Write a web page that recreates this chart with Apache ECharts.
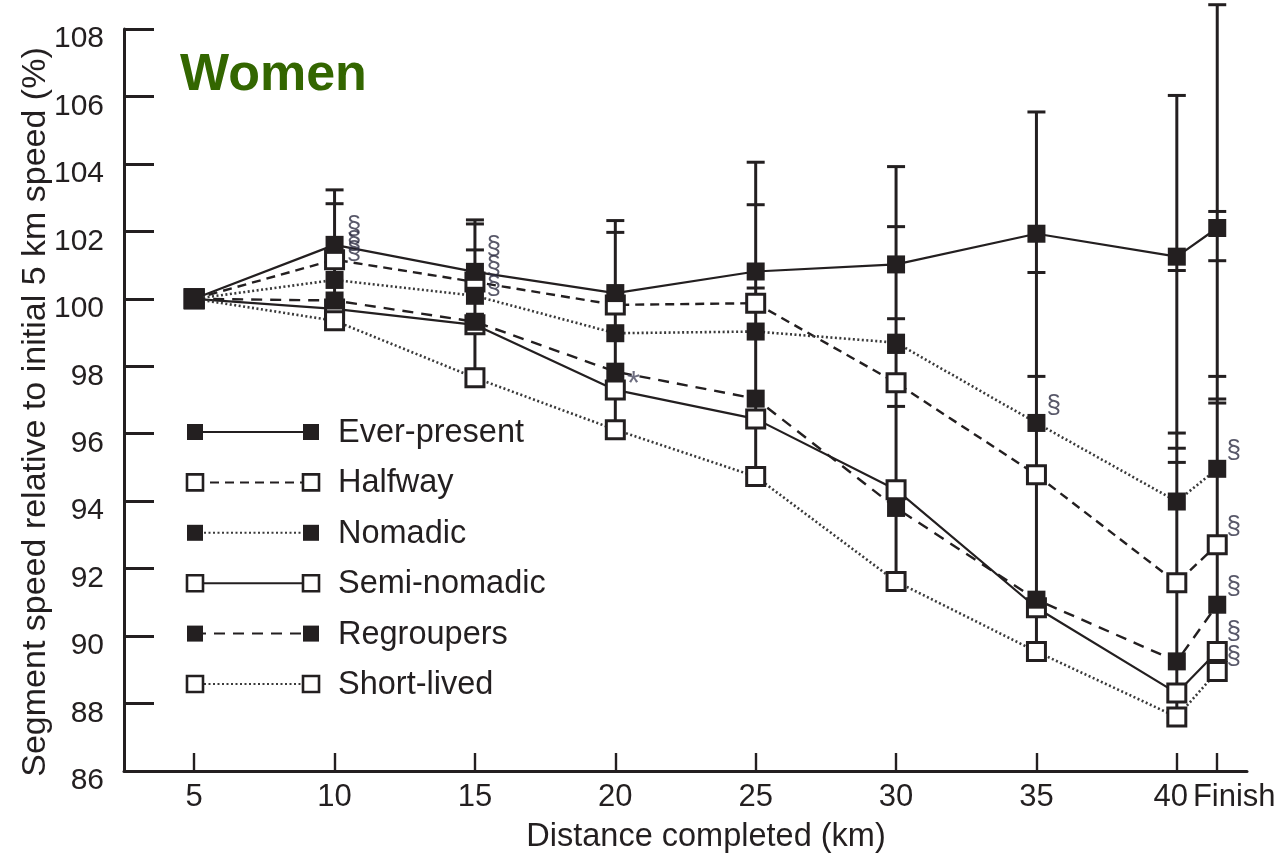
<!DOCTYPE html>
<html>
<head>
<meta charset="utf-8">
<script src="https://cdn.jsdelivr.net/npm/echarts@6/dist/echarts.min.js"></script>
<style>
  html, body { margin: 0; padding: 0; background: #fff; }
  #chart { width: 1281px; height: 864px; }
</style>
</head>
<body>
<div id="chart"></div>
<script>
var FIN = 41.44; // x position of the "Finish" point
var xKm = [5, 10, 15, 20, 25, 30, 35, 40, FIN];
var xTicks = [5, 10, 15, 20, 25, 30, 35, 40, FIN];

var everPresent = [100, 101.6, 100.8, 100.17, 100.81, 101.02, 101.93, 101.25, 102.1];
var halfway     = [100, 101.16, 100.5, 99.82, 99.87, 97.51, 94.78, 91.58, 92.71];
var nomadic     = [100, 100.56, 100.09, 98.98, 99.03, 98.7, 96.32, 93.99, 94.96];
var semiNomadic = [100, 99.7, 99.23, 97.3, 96.44, 94.34, 90.84, 88.31, 89.54];
var regroupers  = [100, 99.95, 99.32, 97.84, 97.04, 93.8, 91.08, 89.25, 90.93];
var shortLived  = [100, 99.35, 97.66, 96.12, 94.73, 91.62, 89.54, 87.6, 88.95];

// error bar spans and cap positions
var errX    = [10, 15, 20, 25, 30, 35, 40, FIN];
var errLow  = [99.35, 97.66, 96.12, 94.73, 91.62, 89.54, 87.6, 88.95];
var errHigh = [103.23, 102.34, 102.32, 104.05, 103.92, 105.54, 106.03, 108.72];
var errCaps = [
    [10, 103.23], [10, 102.82],
    [15, 102.34], [15, 102.22], [15, 101.45],
    [20, 102.32], [20, 101.97],
    [25, 104.05], [25, 102.79], [25, 100.32],
    [30, 103.92], [30, 102.14], [30, 99.41], [30, 98.41], [30, 96.81],
    [35, 105.54], [35, 100.78], [35, 97.7],
    [40, 106.03], [40, 100.84], [40, 96.02], [40, 95.57], [40, 95.15],
    [FIN, 108.72], [FIN, 102.59], [FIN, 101.13], [FIN, 97.7], [FIN, 97.03], [FIN, 96.91]
];

// significance marks
var signs = [
    [10.69, 102.13, '§'], [10.69, 101.69, '§'], [10.69, 101.39, '§'],
    [15.67, 101.54, '§'], [15.67, 100.95, '§'], [15.67, 100.36, '§'],
    [20.65, 97.45, '*'],
    [35.62, 96.83, '§'],
    [42.03, 95.5, '§'], [42.03, 93.25, '§'], [42.03, 91.47, '§'], [42.03, 90.14, '§'], [42.03, 89.39, '§']
];

var INK = '#231f20';
var FONT = 'Liberation Sans, Arial, sans-serif';

var groups = [
    { name: 'Ever-present', data: everPresent, filled: true,  dash: 'solid',  w: 2.2, col: INK },
    { name: 'Halfway',      data: halfway,     filled: false, dash: [9, 6],   w: 2.4, col: INK },
    { name: 'Nomadic',      data: nomadic,     filled: true,  dash: [2, 2.5], w: 2.6, col: '#3a3a3a' },
    { name: 'Semi-nomadic', data: semiNomadic, filled: false, dash: 'solid',  w: 2.2, col: INK },
    { name: 'Regroupers',   data: regroupers,  filled: true,  dash: [11, 8],  w: 2.4, col: INK },
    { name: 'Short-lived',  data: shortLived,  filled: false, dash: [2, 2.5], w: 2.6, col: '#3a3a3a' }
];

function pairs(xs, ys) {
    var out = [];
    for (var i = 0; i < xs.length; i++) out.push([xs[i], ys[i]]);
    return out;
}

var series = [];

// vertical error bar stems
series.push({
    type: 'custom',
    clip: false,
    silent: true,
    z: 1,
    data: pairs(errX, errLow).map(function (p, i) { return [p[0], p[1], errHigh[i]]; }),
    renderItem: function (params, api) {
        var a = api.coord([api.value(0), api.value(1)]);
        var b = api.coord([api.value(0), api.value(2)]);
        return {
            type: 'line',
            shape: { x1: a[0], y1: a[1], x2: b[0], y2: b[1] },
            style: { stroke: INK, lineWidth: 3 }
        };
    }
});
// error bar caps
series.push({
    type: 'custom',
    clip: false,
    silent: true,
    z: 1,
    data: errCaps,
    renderItem: function (params, api) {
        var c = api.coord([api.value(0), api.value(1)]);
        return {
            type: 'line',
            shape: { x1: c[0] - 9, y1: c[1], x2: c[0] + 9, y2: c[1] },
            style: { stroke: INK, lineWidth: 3 }
        };
    }
});

// open markers are drawn under the filled ones
groups.forEach(function (g, i) {
    series.push({
        name: g.name,
        type: 'line',
        z: (g.filled ? 6 : 2) + i / 10,
        data: pairs(xKm, g.data),
        symbol: 'rect',
        symbolSize: 18,
        showAllSymbol: true,
        silent: true,
        lineStyle: { color: g.col, width: g.w, type: g.dash },
        itemStyle: g.filled
            ? { color: INK, borderColor: INK, borderWidth: 0 }
            : { color: '#fff', borderColor: INK, borderWidth: 3 },
        emphasis: { disabled: true }
    });
});

series.push({
    type: 'scatter',
    silent: true,
    z: 10,
    symbol: 'circle',
    symbolSize: 1,
    itemStyle: { color: 'rgba(0,0,0,0)' },
    data: signs,
    label: {
        show: true,
        position: 'inside',
        formatter: function (p) { return p.data[2] === '*' ? '{s|*}' : '{p|§}'; },
        rich: {
            p: { color: '#2e2e44', fontSize: 26, fontFamily: FONT },
            s: { color: '#4a4a60', fontSize: 34, fontFamily: FONT }
        }
    }
});

// hand-made legend: marker - line - marker, then the name
var legendEls = [];
var rowY0 = 432, rowStep = 50.4;
groups.forEach(function (g, i) {
    var y = rowY0 + i * rowStep;
    legendEls.push({
        type: 'line',
        shape: { x1: 195, y1: y, x2: 311, y2: y },
        style: { stroke: g.col, lineWidth: 2, lineDash: g.dash === 'solid' ? null : g.dash }
    });
    [195, 311].forEach(function (cx) {
        legendEls.push({
            type: 'rect',
            shape: { x: cx - 8, y: y - 8, width: 16, height: 16 },
            style: g.filled ? { fill: INK } : { fill: '#fff', stroke: INK, lineWidth: 2.6 }
        });
    });
    legendEls.push({
        type: 'text',
        x: 338,
        y: y + 1,
        style: { text: g.name, fill: INK, font: '32.5px ' + FONT, textVerticalAlign: 'middle' }
    });
});
legendEls.push({
    type: 'text',
    x: 180,
    y: 76,
    style: { text: 'Women', fill: '#336600', font: 'bold 52px ' + FONT, textVerticalAlign: 'middle' }
});

var myChart = echarts.init(document.getElementById('chart'));
var option = {
    animation: false,
    backgroundColor: '#fff',
    grid: { left: 124, right: 34, top: 29, bottom: 93 },
    xAxis: {
        type: 'value',
        min: 2.5,
        max: 42.5,
        name: 'Distance completed (km)',
        nameLocation: 'middle',
        nameGap: 50,
        nameMoveOverlap: false,
        nameTextStyle: { color: INK, fontSize: 32.5, fontFamily: FONT, padding: [0, 0, 0, 41] },
        splitLine: { show: false },
        axisLine: { lineStyle: { color: INK, width: 3 } },
        axisTick: { inside: true, length: 18, customValues: xTicks, lineStyle: { color: INK, width: 2.4 } },
        axisLabel: {
            customValues: xTicks,
            margin: 11,
            color: INK,
            fontSize: 31,
            fontFamily: FONT,
            formatter: function (v) {
                if (Math.abs(v - FIN) < 0.01) return '{f|Finish}';
                if (v === 40) return '{l|40}';
                return String(v);
            },
            rich: {
                f: { color: INK, fontSize: 31, fontFamily: FONT, padding: [0, 0, 0, 34] },
                l: { color: INK, fontSize: 31, fontFamily: FONT, padding: [0, 12, 0, 0] }
            }
        }
    },
    yAxis: {
        type: 'value',
        min: 86,
        max: 108,
        interval: 2,
        name: 'Segment speed relative to initial 5 km speed (%)',
        nameLocation: 'middle',
        nameGap: 71,
        nameMoveOverlap: false,
        nameTextStyle: { color: INK, fontSize: 34, fontFamily: FONT, padding: [0, 24, 0, 0] },
        splitLine: { show: false },
        axisLine: { show: true, lineStyle: { color: INK, width: 3 } },
        axisTick: { inside: true, length: 30, lineStyle: { color: INK, width: 3 } },
        axisLabel: {
            margin: 20,
            color: INK,
            fontSize: 30,
            fontFamily: FONT,
            formatter: function (v) { return '{a|' + v + '}'; },
            rich: { a: { color: INK, fontSize: 30, fontFamily: FONT, padding: [20, 0, 0, 0] } }
        }
    },
    graphic: legendEls,
    series: series
};
myChart.setOption(option);
</script>
</body>
</html>
